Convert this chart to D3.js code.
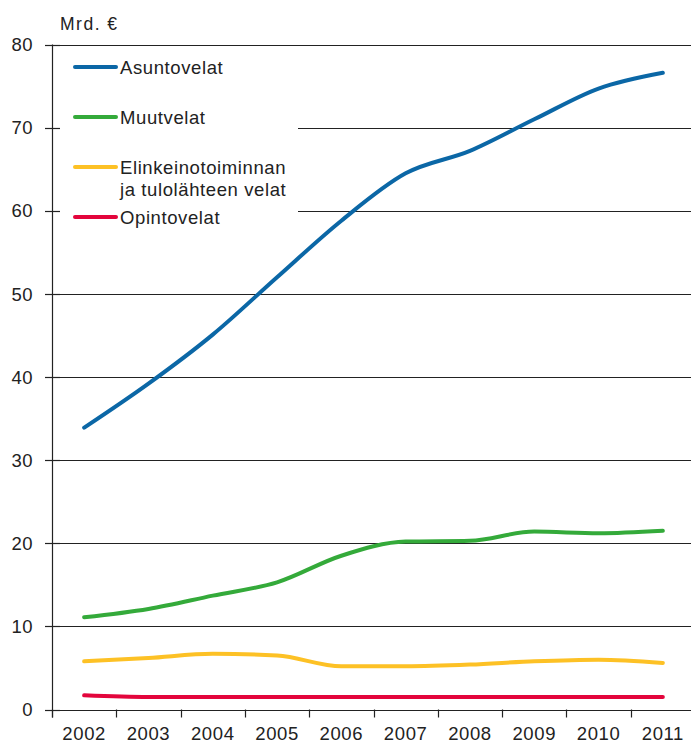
<!DOCTYPE html>
<html>
<head>
<meta charset="utf-8">
<script src="https://cdn.jsdelivr.net/npm/d3@7/dist/d3.min.js"></script>
<style>
  html, body { margin: 0; padding: 0; background: #fff; }
  svg { display: block; }
  text { font-family: "Liberation Sans", Arial, sans-serif; fill: #222; }
</style>
</head>
<body>
<svg id="chart" width="691" height="743"></svg>
<script>
// Household debt by type, billions of euros
const years = [2002, 2003, 2004, 2005, 2006, 2007, 2008, 2009, 2010, 2011];
const asuntovelat = [33.9, 39.2, 45.1, 52.0, 58.8, 64.5, 67.2, 71.0, 74.7, 76.6];
const muutvelat = [11.1, 12.1, 13.7, 15.3, 18.5, 20.2, 20.3, 21.4, 21.2, 21.5];
const elinkeinovelat = [5.8, 6.2, 6.7, 6.5, 5.2, 5.2, 5.4, 5.8, 6.0, 5.6];
const opintovelat = [1.7, 1.5, 1.5, 1.5, 1.5, 1.5, 1.5, 1.5, 1.5, 1.5];
const yTicks = [0, 10, 20, 30, 40, 50, 60, 70, 80];

const series = [
  { name: ["Asuntovelat"], values: asuntovelat, color: "#0b67a6" },
  { name: ["Muutvelat"], values: muutvelat, color: "#34aa3a" },
  { name: ["Elinkeinotoiminnan", "ja tulolähteen velat"], values: elinkeinovelat, color: "#fdc125" },
  { name: ["Opintovelat"], values: opintovelat, color: "#e3053c" }
];

const svg = d3.select("#chart");
const plotLeft = 52, plotRight = 695, plotTop = 44.5, plotBottom = 709.5;

const x = d3.scaleBand().domain(years).range([plotLeft, plotRight]).padding(0);
const y = d3.scaleLinear().domain([0, 80]).range([plotBottom, plotTop]);

// horizontal gridlines
svg.append("g")
  .selectAll("line")
  .data(yTicks)
  .join("line")
  .attr("x1", plotLeft).attr("x2", 691)
  .attr("y1", d => Math.round(y(d)) + 0.5)
  .attr("y2", d => Math.round(y(d)) + 0.5)
  .attr("stroke", "#222").attr("stroke-width", 1.2);

// white legend panel over the upper-left gridlines
svg.append("rect")
  .attr("x", plotLeft + 8).attr("y", y(78))
  .attr("width", 298 - plotLeft - 8).attr("height", y(58) - y(78))
  .attr("fill", "#fff");

// y axis
const yAxis = svg.append("g");
yAxis.append("line")
  .attr("x1", plotLeft + 0.5).attr("x2", plotLeft + 0.5)
  .attr("y1", plotTop).attr("y2", plotBottom + 8)
  .attr("stroke", "#222").attr("stroke-width", 1.2);
yAxis.selectAll("line.tick")
  .data(yTicks)
  .join("line").attr("class", "tick")
  .attr("x1", plotLeft - 7).attr("x2", plotLeft + 8)
  .attr("y1", d => Math.round(y(d)) + 0.5)
  .attr("y2", d => Math.round(y(d)) + 0.5)
  .attr("stroke", "#222").attr("stroke-width", 1.2);
yAxis.selectAll("text")
  .data(yTicks)
  .join("text")
  .attr("x", 33).attr("y", d => y(d))
  .attr("dy", "0.36em")
  .attr("text-anchor", "end")
  .attr("font-size", "18.5px")
  .attr("letter-spacing", "0.4px")
  .text(d => d);

// x axis ticks at band edges, labels at band centres
const xAxis = svg.append("g");
const edges = years.map(d => x(d)).concat([x(years[years.length - 1]) + x.bandwidth()]);
xAxis.selectAll("line")
  .data(edges)
  .join("line")
  .attr("x1", d => Math.round(d) + 0.5).attr("x2", d => Math.round(d) + 0.5)
  .attr("y1", plotBottom).attr("y2", plotBottom + 8)
  .attr("stroke", "#222").attr("stroke-width", 1.2);
xAxis.selectAll("text")
  .data(years)
  .join("text")
  .attr("x", d => x(d) + x.bandwidth() / 2)
  .attr("y", 740)
  .attr("text-anchor", "middle")
  .attr("font-size", "18.5px")
  .attr("letter-spacing", "0.6px")
  .text(d => d);

// unit label
svg.append("text")
  .attr("x", 60).attr("y", 30)
  .attr("font-size", "17.5px")
  .attr("letter-spacing", "1.5px")
  .text("Mrd. €");

// data lines
const line = d3.line()
  .x((d, i) => x(years[i]) + x.bandwidth() / 2)
  .y(d => y(d))
  .curve(d3.curveMonotoneX);

svg.append("g")
  .selectAll("path")
  .data(series)
  .join("path")
  .attr("d", d => line(d.values))
  .attr("fill", "none")
  .attr("stroke", d => d.color)
  .attr("stroke-width", 4)
  .attr("stroke-linecap", "round")
  .attr("stroke-linejoin", "round");

// legend
const legendY = [67, 117, 167, 217];
const lg = svg.append("g")
  .selectAll("g")
  .data(series)
  .join("g")
  .attr("transform", (d, i) => `translate(0,${legendY[i]})`);
lg.append("line")
  .attr("x1", 75).attr("x2", 116)
  .attr("stroke", d => d.color)
  .attr("stroke-width", 4)
  .attr("stroke-linecap", "round");
lg.append("text")
  .attr("x", 120)
  .attr("font-size", "18.5px")
  .attr("letter-spacing", "0.6px")
  .selectAll("tspan")
  .data(d => d.name)
  .join("tspan")
  .attr("x", 120)
  .attr("y", (d, i) => i * 22)
  .attr("dy", "0.36em")
  .text(d => d);
</script>
</body>
</html>
